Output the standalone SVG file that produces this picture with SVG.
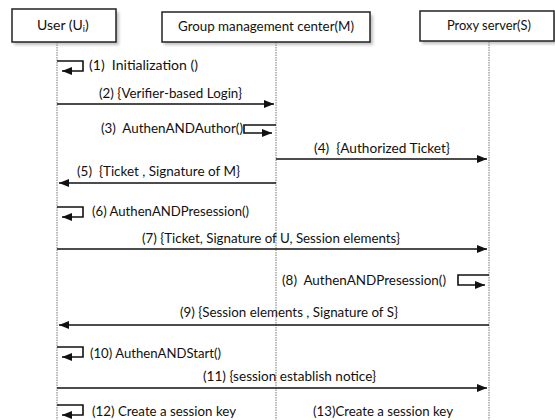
<svg xmlns="http://www.w3.org/2000/svg" width="555" height="420" viewBox="0 0 555 420">
<style>
.box{fill:#fff;stroke:#222;stroke-width:1.5}
.shadow{fill:#999;opacity:0.6}
.life{stroke:#777;stroke-width:1;stroke-dasharray:1.5 1}
.msg{stroke:#111;stroke-width:1.6;fill:none}
.t{font-family:Lato,"Open Sans",sans-serif;font-size:14px;fill:#111;white-space:pre}
</style>
<defs>
<marker id="ah" viewBox="0 0 10 8" refX="10" refY="4" markerWidth="10" markerHeight="8" markerUnits="userSpaceOnUse" orient="auto">
<path d="M0,0 L10,4 L0,8 Z" fill="#111"/>
</marker>
<filter id="blur" x="-10%" y="-30%" width="120%" height="160%"><feGaussianBlur stdDeviation="1.5"/></filter>
</defs>
<rect width="555" height="420" fill="#fff"/>
<g id="lifelines">
<line class="life" x1="57" y1="42" x2="57" y2="420"/>
<line class="life" x1="276" y1="42" x2="276" y2="420"/>
<line class="life" x1="489" y1="42" x2="489" y2="420"/>
</g>
<g id="node-user">
<rect class="shadow" x="14" y="12" width="105" height="33" filter="url(#blur)"/>
<rect class="box" x="12" y="9" width="104" height="33"/>
<text class="t" x="37" y="30">User (U<tspan font-size="9" dy="2">i</tspan><tspan dy="-2">)</tspan></text>
</g>
<g id="node-m">
<rect class="shadow" x="164" y="15" width="209" height="30" filter="url(#blur)"/>
<rect class="box" x="162" y="12" width="208" height="30"/>
<text class="t" x="178" y="31" textLength="176" lengthAdjust="spacingAndGlyphs">Group management center(M)</text>
</g>
<g id="node-s">
<rect class="shadow" x="422" y="14" width="135" height="30" filter="url(#blur)"/>
<rect class="box" x="420" y="11" width="134" height="30"/>
<text class="t" x="447" y="30" textLength="84" lengthAdjust="spacingAndGlyphs">Proxy server(S)</text>
</g>
<g id="connectors">
<path class="msg" d="M57,61 H83 V71 H62" marker-end="url(#ah)"/>
<line class="msg" x1="57" y1="104" x2="274" y2="104" marker-end="url(#ah)"/>
<path class="msg" d="M276,125 H244 V133 H272" marker-end="url(#ah)"/>
<line class="msg" x1="276" y1="159" x2="487" y2="159" marker-end="url(#ah)"/>
<line class="msg" x1="276" y1="183" x2="59" y2="183" marker-end="url(#ah)"/>
<path class="msg" d="M57,207 H83 V217 H62" marker-end="url(#ah)"/>
<line class="msg" x1="57" y1="249" x2="487" y2="249" marker-end="url(#ah)"/>
<path class="msg" d="M489,275 H458 V285 H485" marker-end="url(#ah)"/>
<line class="msg" x1="489" y1="325" x2="59" y2="325" marker-end="url(#ah)"/>
<path class="msg" d="M57,347 H83 V357 H62" marker-end="url(#ah)"/>
<line class="msg" x1="57" y1="388" x2="487" y2="388" marker-end="url(#ah)"/>
<path class="msg" d="M57,405 H83 V415 H62" marker-end="url(#ah)"/>
</g>
<g id="labels">
<text class="t" x="89" y="70" textLength="109" lengthAdjust="spacingAndGlyphs">(1)  Initialization ()</text>
<text class="t" x="99" y="98" textLength="143" lengthAdjust="spacingAndGlyphs">(2) {Verifier-based Login}</text>
<text class="t" x="101" y="133" textLength="142" lengthAdjust="spacingAndGlyphs">(3)  AuthenANDAuthor()</text>
<text class="t" x="314" y="153" textLength="136" lengthAdjust="spacingAndGlyphs">(4)  {Authorized Ticket}</text>
<text class="t" x="77" y="176" textLength="163" lengthAdjust="spacingAndGlyphs">(5)  {Ticket , Signature of M}</text>
<text class="t" x="92" y="216" textLength="157" lengthAdjust="spacingAndGlyphs">(6) AuthenANDPresession()</text>
<text class="t" x="142" y="243" textLength="258" lengthAdjust="spacingAndGlyphs">(7) {Ticket, Signature of U, Session elements}</text>
<text class="t" x="282" y="285" textLength="164" lengthAdjust="spacingAndGlyphs">(8)  AuthenANDPresession()</text>
<text class="t" x="180" y="317" textLength="218" lengthAdjust="spacingAndGlyphs">(9) {Session elements , Signature of S}</text>
<text class="t" x="90" y="358" textLength="131" lengthAdjust="spacingAndGlyphs">(10) AuthenANDStart()</text>
<text class="t" x="203" y="381" textLength="173" lengthAdjust="spacingAndGlyphs">(11) {session establish notice}</text>
<text class="t" x="92" y="416" textLength="144" lengthAdjust="spacingAndGlyphs">(12) Create a session key</text>
<text class="t" x="313" y="416" textLength="140" lengthAdjust="spacingAndGlyphs">(13)Create a session key</text>
</g>
</svg>
